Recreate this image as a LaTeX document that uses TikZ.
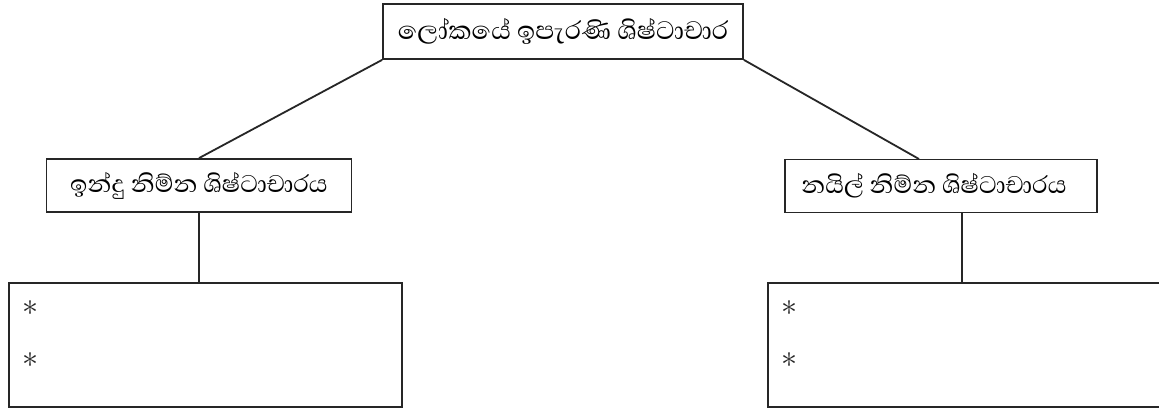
\documentclass[tikz,border=0pt]{standalone}
\usepackage{fontspec}
\usepackage{graphicx}
\newfontfamily\sinhala[Script=Sinhala]{Abhaya Libre}
\begin{document}
\begin{tikzpicture}[x=1pt,y=-1pt,
  box/.style={draw=black!85,line width=1.8pt,inner sep=0pt,rectangle,font=\sinhala\fontsize{31}{36}\selectfont},
  conn/.style={draw=black!85,line width=1.8pt},
  star/.style={inner sep=0pt,anchor=center,text=black!85}]
\clip (0,0) rectangle (1159,408);
\fill[white] (0,0) rectangle (1159,408);
\node[box,minimum width=360pt,minimum height=55pt,font=\sinhala\fontsize{32.5}{36}\selectfont] (top) at (563,31.5) {ලෝකයේ ඉපැරණි ශිෂ්ටාචාර};
\node[box,minimum width=305pt,minimum height=53pt] (lmid) at (199,185.5) {ඉන්දු නිම්න ශිෂ්ටාචාරය};
\node[box,minimum width=312pt,minimum height=53pt] (rmid) at (941,186) {\hspace*{-14pt}නයිල් නිම්න ශිෂ්ටාචාරය};
\node[box,minimum width=393pt,minimum height=124pt] (lbot) at (205.5,345) {};
\node[box,minimum width=402pt,minimum height=124pt] (rbot) at (969,345) {};
\coordinate (rin) at (919,159);
\coordinate (rout) at (962,212);
\draw[conn] (top.south west) -- (lmid.north);
\draw[conn] (top.south east) -- (rin);
\draw[conn] (lmid.south) -- (lbot.north -| lmid.south);
\draw[conn] (rout) -- (rout |- rbot.north);
\node[star] (ls1) at (30,308) {\scalebox{3.2}{$\ast$}};
\node[star] (ls2) at (30,360) {\scalebox{3.2}{$\ast$}};
\node[star] (rs1) at (789,308) {\scalebox{3.2}{$\ast$}};
\node[star] (rs2) at (789,360) {\scalebox{3.2}{$\ast$}};
\end{tikzpicture}
\end{document}
